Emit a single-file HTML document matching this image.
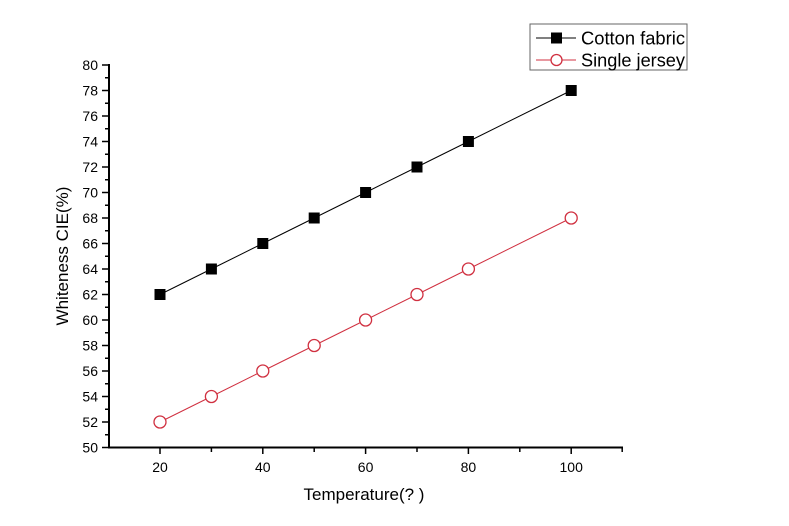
<!DOCTYPE html>
<html><head><meta charset="utf-8"><style>body{margin:0;background:#fff}svg{display:block}text{font-family:"Liberation Sans",sans-serif;fill:#000}</style></head>
<body>
<svg width="789" height="526" viewBox="0 0 789 526" xmlns="http://www.w3.org/2000/svg">
<g stroke="#000" stroke-width="2" fill="none">
<line x1="109" y1="447.5" x2="623" y2="447.5"/>
<line x1="109" y1="64" x2="109" y2="448.5"/>
</g>
<g stroke="#000" stroke-width="1.5">
<line x1="160" y1="447" x2="160" y2="454"/><line x1="211.4" y1="447" x2="211.4" y2="452"/>
<line x1="262.8" y1="447" x2="262.8" y2="454"/><line x1="314.2" y1="447" x2="314.2" y2="452"/>
<line x1="365.6" y1="447" x2="365.6" y2="454"/><line x1="417" y1="447" x2="417" y2="452"/>
<line x1="468.4" y1="447" x2="468.4" y2="454"/><line x1="519.8" y1="447" x2="519.8" y2="452"/>
<line x1="571.2" y1="447" x2="571.2" y2="454"/><line x1="622.2" y1="447" x2="622.2" y2="452"/>
</g>
<g stroke="#000" stroke-width="1.5" id="yt"></g>
<g font-size="14" text-anchor="middle">
<text x="160" y="472">20</text><text x="262.8" y="472">40</text><text x="365.6" y="472">60</text><text x="468.4" y="472">80</text><text x="571.2" y="472">100</text>
</g>
<g font-size="14" text-anchor="end" id="yl"></g>
<text x="364" y="500" font-size="17" text-anchor="middle">Temperature(?  )</text>
<text transform="translate(68,256) rotate(-90)" font-size="17" text-anchor="middle">Whiteness CIE(%)</text>
<polyline fill="none" stroke="#000" stroke-width="1" points="160,294.5 211.4,269 262.8,243.5 314.2,218 365.6,192.5 417,167 468.4,141.5 571.2,90.5"/>
<polyline fill="none" stroke="#d03040" stroke-width="1" points="160,422 211.4,396.5 262.8,371 314.2,345.5 365.6,320 417,294.5 468.4,269 571.2,218"/>
<g fill="#000" id="sq"></g>
<g fill="#fff" stroke="#d03040" stroke-width="1.3" id="ci"></g>
<rect x="530" y="24" width="157" height="46" fill="#fff" stroke="#666" stroke-width="1"/>
<line x1="536" y1="38" x2="576" y2="38" stroke="#000" stroke-width="1"/>
<rect x="551" y="32.5" width="11" height="11" fill="#000"/>
<text x="581" y="44.5" font-size="18" textLength="104" lengthAdjust="spacingAndGlyphs">Cotton fabric</text>
<line x1="536" y1="60" x2="576" y2="60" stroke="#d03040" stroke-width="1"/>
<circle cx="556.5" cy="60" r="5.5" fill="#fff" stroke="#d03040" stroke-width="1.3"/>
<text x="581" y="66.5" font-size="18" textLength="104" lengthAdjust="spacingAndGlyphs">Single jersey</text>
</svg>
<script>
var ns="http://www.w3.org/2000/svg";
function el(p,t,a){var e=document.createElementNS(ns,t);for(var k in a)e.setAttribute(k,a[k]);p.appendChild(e);return e;}
var yt=document.getElementById('yt'),yl=document.getElementById('yl');
for(var v=50;v<=80;v++){var y=447.5-(v-50)*12.75;var major=v%2==0;
el(yt,'line',{x1:109,x2:major?102:105,y1:y,y2:y});
if(major){var t=el(yl,'text',{x:98,y:y+5});t.textContent=v;}}
var sq=document.getElementById('sq'),ci=document.getElementById('ci');
for(var i=0;i<9;i++){if(i==7)continue;var x=160+i*51.4;
el(sq,'rect',{x:x-5.5,y:294.5-i*25.5-5.5,width:11,height:11});
el(ci,'circle',{cx:x,cy:422-i*25.5,r:6});}
</script>
</body></html>
